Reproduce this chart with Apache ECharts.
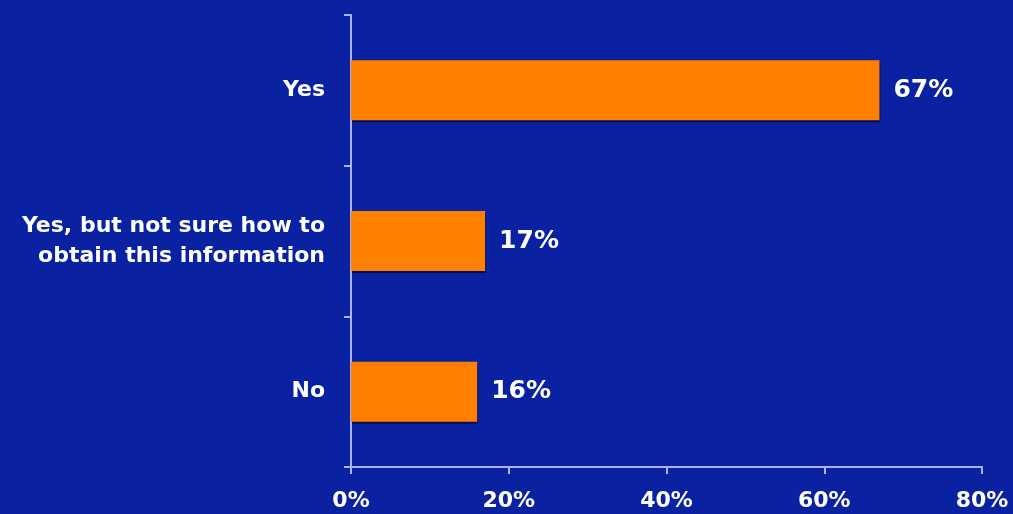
<!DOCTYPE html>
<html>
<head>
<meta charset="utf-8">
<script src="https://cdn.jsdelivr.net/npm/echarts@6/dist/echarts.min.js"></script>
<style>
  html, body { margin: 0; padding: 0; background: #0a22a2; }
  #chart { width: 1013px; height: 514px; }
</style>
</head>
<body>
<div id="chart"></div>
<script>
// Survey answers, bottom to top as the category axis draws them
const categories = ['No', 'Yes, but not sure how to\nobtain this information', 'Yes'];
const shares = [16, 17, 67];
const axisMax = 80;
const axisStep = 20;

const lineColor = '#a9b5f2';
const textFont = 'DejaVu Sans, Verdana, sans-serif';

const chart = echarts.init(document.getElementById('chart'));
chart.setOption({
  backgroundColor: '#0a22a2',
  animation: false,
  grid: { left: 351, right: 31, top: 15, bottom: 47 },
  xAxis: {
    type: 'value',
    min: 0,
    max: axisMax,
    interval: axisStep,
    axisLine: { show: true, lineStyle: { color: lineColor, width: 2 } },
    axisTick: { show: true, length: 7, lineStyle: { color: lineColor, width: 2 } },
    splitLine: { show: false },
    axisLabel: {
      formatter: '{value}%',
      color: '#ffffff',
      fontFamily: textFont,
      fontWeight: 'bold',
      fontSize: 22,
      margin: 23
    }
  },
  yAxis: {
    type: 'category',
    data: categories,
    axisLine: { show: true, lineStyle: { color: lineColor, width: 2 } },
    axisTick: { show: true, length: 7, lineStyle: { color: lineColor, width: 2 } },
    axisLabel: {
      color: '#ffffff',
      fontFamily: textFont,
      fontWeight: 'bold',
      fontSize: 22,
      lineHeight: 30,
      align: 'right',
      margin: 26
    }
  },
  series: [{
    type: 'bar',
    data: shares,
    barWidth: 60,
    itemStyle: {
      color: '#ff8000',
      shadowColor: 'rgba(0,0,40,0.6)',
      shadowOffsetY: 2,
      shadowOffsetX: 1
    },
    label: {
      show: true,
      position: 'right',
      distance: 14,
      formatter: '{c}%',
      color: '#ffffff',
      fontFamily: textFont,
      fontWeight: 'bold',
      fontSize: 25
    }
  }]
});
</script>
</body>
</html>
